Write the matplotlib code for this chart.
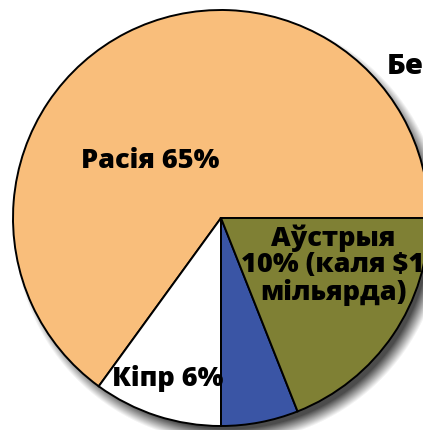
import matplotlib.pyplot as plt
import numpy as np

# slice shares as drawn (counter-clockwise from 3 o'clock)
countries = ["Расія", "Кіпр", "", "Аўстрыя"]
shares = [65, 10, 6, 19]
colors = ["#F9BE7B", "#FFFFFF", "#3A55A5", "#7F8034"]

labels = ["Расія 65%", "Кіпр 6%", "Аўстрыя\n10% (каля $1\nмільярда)", "Бе"]

W, H = 423, 430
CX, CY, R = 221, H - 218, 208

fig = plt.figure(figsize=(W / 100, H / 100), dpi=100)
ax = fig.add_axes([0, 0, 1, 1])

# soft drop shadow under the pie
yy, xx = np.mgrid[0:H, 0:W] + 0.5
d = np.hypot(xx - (CX + 8), (H - yy) - (CY - 10))
alpha = np.clip((R - d) / 14 + 0.5, 0, 1) * 0.9
shadow = np.zeros((H, W, 4))
shadow[..., :3] = 0.22
shadow[..., 3] = alpha
ax.imshow(shadow, extent=(0, W, 0, H), origin="upper", zorder=0)

ax.pie(shares, colors=colors, startangle=0, counterclock=True,
       center=(CX, CY), radius=R, frame=True,
       wedgeprops=dict(edgecolor="black", linewidth=1.4))

font = dict(family=["Open Sans", "DejaVu Sans"], weight="heavy", color="black")
ax.text(150, H - 161, labels[0], fontsize=19.5, ha="center", va="center", **font)
ax.text(168, H - 378, labels[1], fontsize=19.5, ha="center", va="center", **font)
ax.text(333, H - 265, labels[2], fontsize=19.5, ha="center", va="center",
        linespacing=1.02, **font)
ax.text(387, H - 66, labels[3], fontsize=21, ha="left", va="center", **font)

ax.set_xlim(0, W)
ax.set_ylim(0, H)
ax.set_aspect("equal")
ax.axis("off")

fig.savefig("out.png", dpi=100)
